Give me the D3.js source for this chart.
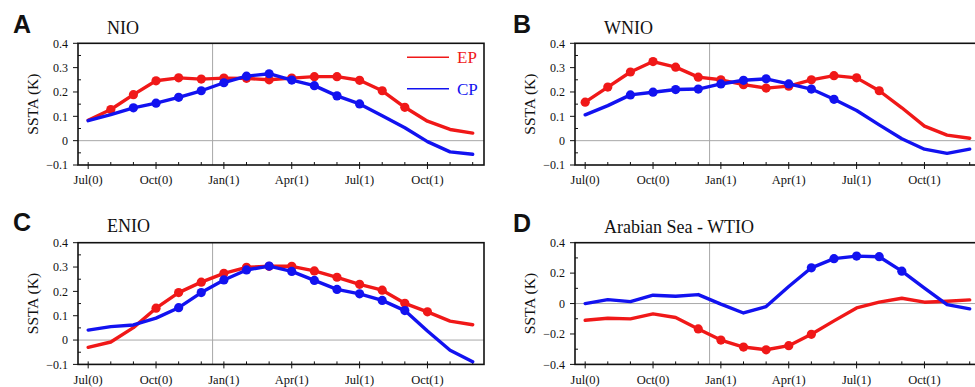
<!DOCTYPE html>
<html>
<head>
<meta charset="utf-8">
<script src="https://cdn.jsdelivr.net/npm/d3@7"></script>
<style>
  body { margin: 0; background: #fff; }
  svg { display: block; }
</style>
</head>
<body>
<div id="chart"></div>
<script>
// --- Data (monthly, Jul(0) .. Dec(1)) ---
const months = ["Jul(0)", "Aug(0)", "Sep(0)", "Oct(0)", "Nov(0)", "Dec(0)",
  "Jan(1)", "Feb(1)", "Mar(1)", "Apr(1)", "May(1)", "Jun(1)",
  "Jul(1)", "Aug(1)", "Sep(1)", "Oct(1)", "Nov(1)", "Dec(1)"];
const xTickLabels = ["Jul(0)", "Oct(0)", "Jan(1)", "Apr(1)", "Jul(1)", "Oct(1)"];
const seriesNames = ["EP", "CP"];

const nioEP = [0.084, 0.128, 0.189, 0.246, 0.258, 0.253, 0.257, 0.256, 0.250, 0.257, 0.263, 0.263, 0.248, 0.205, 0.137, 0.080, 0.046, 0.031];
const nioCP = [0.082, 0.107, 0.135, 0.154, 0.178, 0.205, 0.238, 0.265, 0.275, 0.249, 0.226, 0.184, 0.151, 0.102, 0.053, -0.004, -0.046, -0.056];
const nioEPSig = ["Aug(0)", "Sep(0)", "Oct(0)", "Nov(0)", "Dec(0)", "Jan(1)", "Feb(1)", "Mar(1)", "Apr(1)", "May(1)", "Jun(1)", "Jul(1)", "Aug(1)", "Sep(1)"];
const nioCPSig = ["Sep(0)", "Oct(0)", "Nov(0)", "Dec(0)", "Jan(1)", "Feb(1)", "Mar(1)", "Apr(1)", "May(1)", "Jun(1)", "Jul(1)"];

const wnioEP = [0.158, 0.220, 0.282, 0.325, 0.302, 0.261, 0.250, 0.230, 0.216, 0.224, 0.250, 0.267, 0.258, 0.205, 0.135, 0.060, 0.023, 0.010];
const wnioCP = [0.106, 0.144, 0.188, 0.199, 0.210, 0.212, 0.233, 0.248, 0.254, 0.233, 0.212, 0.170, 0.124, 0.065, 0.008, -0.035, -0.052, -0.035];
const wnioEPSig = ["Jul(0)", "Aug(0)", "Sep(0)", "Oct(0)", "Nov(0)", "Dec(0)", "Jan(1)", "Feb(1)", "Mar(1)", "Apr(1)", "May(1)", "Jun(1)", "Jul(1)", "Aug(1)"];
const wnioCPSig = ["Sep(0)", "Oct(0)", "Nov(0)", "Dec(0)", "Jan(1)", "Feb(1)", "Mar(1)", "Apr(1)", "May(1)", "Jun(1)"];

const enioEP = [-0.030, -0.008, 0.051, 0.131, 0.195, 0.238, 0.274, 0.299, 0.303, 0.303, 0.284, 0.258, 0.229, 0.205, 0.151, 0.116, 0.078, 0.063];
const enioCP = [0.041, 0.055, 0.062, 0.090, 0.133, 0.195, 0.247, 0.288, 0.304, 0.282, 0.245, 0.208, 0.190, 0.163, 0.121, 0.037, -0.042, -0.089];
const enioEPSig = ["Oct(0)", "Nov(0)", "Dec(0)", "Jan(1)", "Feb(1)", "Mar(1)", "Apr(1)", "May(1)", "Jun(1)", "Jul(1)", "Aug(1)", "Sep(1)", "Oct(1)"];
const enioCPSig = ["Nov(0)", "Dec(0)", "Jan(1)", "Feb(1)", "Mar(1)", "Apr(1)", "May(1)", "Jun(1)", "Jul(1)", "Aug(1)", "Sep(1)"];

const aswtioEP = [-0.110, -0.097, -0.101, -0.068, -0.092, -0.167, -0.240, -0.286, -0.304, -0.277, -0.202, -0.114, -0.029, 0.009, 0.035, 0.009, 0.015, 0.024];
const aswtioCP = [0.000, 0.026, 0.013, 0.055, 0.048, 0.059, -0.004, -0.062, -0.020, 0.112, 0.235, 0.295, 0.312, 0.308, 0.213, 0.101, -0.007, -0.035];
const aswtioEPSig = ["Dec(0)", "Jan(1)", "Feb(1)", "Mar(1)", "Apr(1)", "May(1)"];
const aswtioCPSig = ["May(1)", "Jun(1)", "Jul(1)", "Aug(1)", "Sep(1)"];

const panels = [
  { letter: "A", title: "NIO", ep: nioEP, cp: nioCP, epSig: nioEPSig, cpSig: nioCPSig,
    yDomain: [-0.1, 0.4], yTicks: [-0.1, 0, 0.1, 0.2, 0.3, 0.4], legend: true },
  { letter: "B", title: "WNIO", ep: wnioEP, cp: wnioCP, epSig: wnioEPSig, cpSig: wnioCPSig,
    yDomain: [-0.1, 0.4], yTicks: [-0.1, 0, 0.1, 0.2, 0.3, 0.4] },
  { letter: "C", title: "ENIO", ep: enioEP, cp: enioCP, epSig: enioEPSig, cpSig: enioCPSig,
    yDomain: [-0.1, 0.4], yTicks: [-0.1, 0, 0.1, 0.2, 0.3, 0.4] },
  { letter: "D", title: "Arabian Sea - WTIO", ep: aswtioEP, cp: aswtioCP, epSig: aswtioEPSig, cpSig: aswtioCPSig,
    yDomain: [-0.4, 0.4], yTicks: [-0.4, -0.2, 0, 0.2, 0.4] }
];

// --- Layout ---
const width = 975, height = 387;
const colors = { EP: "#f01818", CP: "#1212f0" };
const serif = "'Liberation Serif', 'DejaVu Serif', serif";
const plotW = 406, plotH = 121.7;
const origins = [
  { x: 78, y: 43.3 }, { x: 575, y: 43.3 },
  { x: 78, y: 242.7 }, { x: 575, y: 242.7 }
];
const titleDy = [-9.5, -9.5, -10.5, -10];

const svg = d3.select("#chart").append("svg")
  .attr("width", width)
  .attr("height", height);

panels.forEach((p, i) => {
  const o = origins[i];
  const g = svg.append("g").attr("transform", `translate(${o.x},${o.y})`);

  const x = d3.scaleLinear().domain([-0.45, 17.5]).range([0, plotW]);
  const y = d3.scaleLinear().domain(p.yDomain).range([plotH, 0]);
  const xi = d => x(months.indexOf(d));

  // zero line and Dec/Jan divider
  g.append("line")
    .attr("x1", 0).attr("x2", plotW)
    .attr("y1", y(0)).attr("y2", y(0))
    .attr("stroke", "#a8a8a8").attr("stroke-width", 1);
  g.append("line")
    .attr("x1", x(5.5)).attr("x2", x(5.5))
    .attr("y1", 0).attr("y2", plotH)
    .attr("stroke", "#a8a8a8").attr("stroke-width", 1);

  // y axis: major ticks outward, minor ticks inward
  const yStep = p.yTicks[1] - p.yTicks[0];
  const yMinor = d3.range(p.yDomain[0], p.yDomain[1] + 1e-9, yStep / 2)
    .filter(v => !p.yTicks.some(t => Math.abs(t - v) < 1e-9));
  g.selectAll(".ymaj").data(p.yTicks).join("line")
    .attr("x1", -5).attr("x2", 0)
    .attr("y1", d => y(d)).attr("y2", d => y(d))
    .attr("stroke", "#111").attr("stroke-width", 1);
  g.selectAll(".ymin").data(yMinor).join("line")
    .attr("x1", 0).attr("x2", 3)
    .attr("y1", d => y(d)).attr("y2", d => y(d))
    .attr("stroke", "#111").attr("stroke-width", 1);
  g.selectAll(".ylab").data(p.yTicks).join("text")
    .attr("x", -10)
    .attr("y", d => y(d))
    .attr("dy", "0.35em")
    .attr("text-anchor", "end")
    .attr("font-family", serif)
    .attr("font-size", 12)
    .attr("fill", "#111")
    .text(d => d === 0 ? "0" : d3.format(".1f")(d));

  // x axis
  g.selectAll(".xtick").data(months).join("line")
    .attr("x1", d => xi(d)).attr("x2", d => xi(d))
    .attr("y1", plotH - 3)
    .attr("y2", d => xTickLabels.includes(d) ? plotH + 4 : plotH)
    .attr("stroke", "#111").attr("stroke-width", 1);
  g.selectAll(".xlab").data(xTickLabels).join("text")
    .attr("x", d => xi(d))
    .attr("y", plotH + 19.5)
    .attr("text-anchor", "middle")
    .attr("font-family", serif)
    .attr("font-size", 12.5)
    .attr("fill", "#111")
    .text(d => d);

  // series
  const line = d3.line()
    .x((d, j) => x(j))
    .y(d => y(d));
  seriesNames.forEach(name => {
    const vals = name === "EP" ? p.ep : p.cp;
    const sig = name === "EP" ? p.epSig : p.cpSig;
    g.append("path")
      .datum(vals)
      .attr("d", line)
      .attr("fill", "none")
      .attr("stroke", colors[name])
      .attr("stroke-width", 3.4)
      .attr("stroke-linejoin", "round")
      .attr("stroke-linecap", "round");
    g.selectAll(".dot-" + name)
      .data(sig)
      .join("circle")
      .attr("cx", d => xi(d))
      .attr("cy", d => y(vals[months.indexOf(d)]))
      .attr("r", 4.6)
      .attr("fill", colors[name]);
  });

  // frame
  g.append("rect")
    .attr("x", 0).attr("y", 0)
    .attr("width", plotW).attr("height", plotH)
    .attr("fill", "none")
    .attr("stroke", "#111")
    .attr("stroke-width", 1.6);

  // y label
  g.append("text")
    .attr("transform", `translate(-40,${plotH / 2}) rotate(-90)`)
    .attr("text-anchor", "middle")
    .attr("font-family", serif)
    .attr("font-size", 15.5)
    .attr("fill", "#111")
    .text("SSTA (K)");

  // title and panel letter
  g.append("text")
    .attr("x", 29)
    .attr("y", titleDy[i])
    .attr("font-family", serif)
    .attr("font-size", 18)
    .attr("fill", "#111")
    .text(p.title);
  g.append("text")
    .attr("x", i % 2 === 0 ? -65 : -62)
    .attr("y", titleDy[i] - 1)
    .attr("font-family", "'Liberation Sans', Arial, sans-serif")
    .attr("font-weight", "bold")
    .attr("font-size", 25)
    .attr("fill", "#111")
    .text(p.letter);

  // legend (panel A only)
  if (p.legend) {
    seriesNames.forEach((name, k) => {
      const ly = 14 + k * 31.5;
      g.append("line")
        .attr("x1", 329).attr("x2", 371)
        .attr("y1", ly).attr("y2", ly)
        .attr("stroke", colors[name])
        .attr("stroke-width", 1.4);
      g.append("text")
        .attr("x", 379)
        .attr("y", ly)
        .attr("dy", "0.35em")
        .attr("font-family", serif)
        .attr("font-size", 17)
        .attr("fill", colors[name])
        .text(name);
    });
  }
});
</script>
</body>
</html>
